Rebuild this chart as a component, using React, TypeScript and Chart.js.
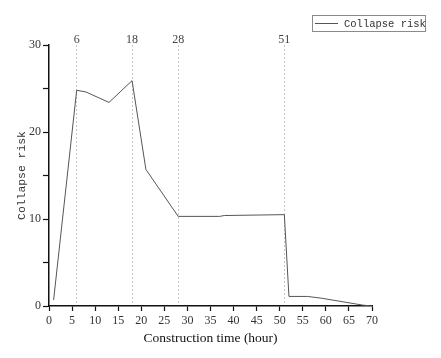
import React, { useEffect, useRef } from "react";
import { Chart, registerables } from "chart.js";

Chart.register(...registerables);

const seriesLabel = "Collapse risk";
const timeHours = [1, 6, 8, 13, 18, 21, 28, 37, 38, 51, 52, 56, 59, 68, 70];
const riskValues = [0.7, 24.8, 24.6, 23.4, 25.9, 15.7, 10.3, 10.3, 10.4, 10.5, 1.1, 1.1, 0.9, 0.1, 0];
const markerHours = [6, 18, 28, 51];

const legendPlugin = {
  id: "customLegend",
  afterDraw(chart: any) {
    const ctx = chart.ctx;
    const label = chart.data.datasets[0].label;
    ctx.save();
    ctx.strokeStyle = "#8a8a8a";
    ctx.lineWidth = 1;
    ctx.strokeRect(312.5, 15.5, 113, 16);
    ctx.strokeStyle = "#555";
    ctx.beginPath();
    ctx.moveTo(315, 23.5);
    ctx.lineTo(338, 23.5);
    ctx.stroke();
    ctx.fillStyle = "#333";
    ctx.font = "10.5px 'Liberation Mono'";
    ctx.textBaseline = "middle";
    ctx.textAlign = "left";
    ctx.fillText(label, 344, 24);
    ctx.restore();
  },
};

export default function App() {
  const ref = useRef<HTMLCanvasElement | null>(null);
  useEffect(() => {
    if (!ref.current) return;
    const chart = new Chart(ref.current, {
      type: "line",
      data: {
        datasets: [
          {
            label: seriesLabel,
            data: timeHours.map((t, i) => ({ x: t, y: riskValues[i] })),
            borderColor: "#555",
            borderWidth: 1,
            pointRadius: 0,
            tension: 0,
            fill: false,
          },
        ],
      },
      options: {
        responsive: false,
        animation: false,
        layout: { padding: { left: 0, top: 0, right: 69, bottom: 0 } },
        plugins: { legend: { display: false }, tooltip: { enabled: false } },
        scales: {
          x: {
            type: "linear",
            position: "bottom",
            min: 0,
            max: 70,
            ticks: { stepSize: 5, padding: 3, color: "#333", font: { family: "'Liberation Serif'", size: 12 } },
            grid: { drawOnChartArea: false, drawTicks: true, tickLength: 5, tickColor: "#111", tickWidth: 1.2 },
            border: { display: true, color: "#111", width: 1.5 },
            title: {
              display: true,
              text: "Construction time (hour)",
              color: "#111",
              font: { family: "'Liberation Serif'", size: 13.5 },
              padding: { top: 0, bottom: 11 },
            },
            afterFit: (s: any) => { s.height = 52; },
          },
          xTop: {
            type: "linear",
            position: "top",
            min: 0,
            max: 70,
            afterBuildTicks: (s: any) => { s.ticks = markerHours.map((v) => ({ value: v })); },
            ticks: { padding: -2, color: "#444", font: { family: "'Liberation Serif'", size: 12 }, autoSkip: false },
            grid: { drawOnChartArea: true, drawTicks: false, color: "#c6c6c6", lineWidth: 1 },
            border: { display: false, dash: [2, 2] },
            afterFit: (s: any) => { s.height = 45; },
          },
          y: {
            type: "linear",
            position: "left",
            min: 0,
            max: 30,
            ticks: {
              stepSize: 5,
              padding: 2,
              color: "#333",
              font: { family: "'Liberation Serif'", size: 12 },
              callback: (v: any) => (v % 10 === 0 ? String(v) : ""),
            },
            grid: { drawOnChartArea: false, drawTicks: true, tickLength: 6, tickColor: "#111", tickWidth: 1.2 },
            border: { display: true, color: "#111", width: 1.5 },
            title: {
              display: true,
              text: "Collapse risk",
              color: "#333",
              font: { family: "'Liberation Mono'", size: 11.4 },
              padding: { top: 15, bottom: 0 },
            },
            afterFit: (s: any) => { s.width = 49; },
          },
        },
      },
      plugins: [legendPlugin],
    } as any);
    return () => chart.destroy();
  }, []);
  return (
    <div style={{ position: "absolute", left: 0, top: 0, width: 441, height: 358, background: "#fff" }}>
      <canvas ref={ref} width={441} height={358} style={{ display: "block" }} />
    </div>
  );
}
